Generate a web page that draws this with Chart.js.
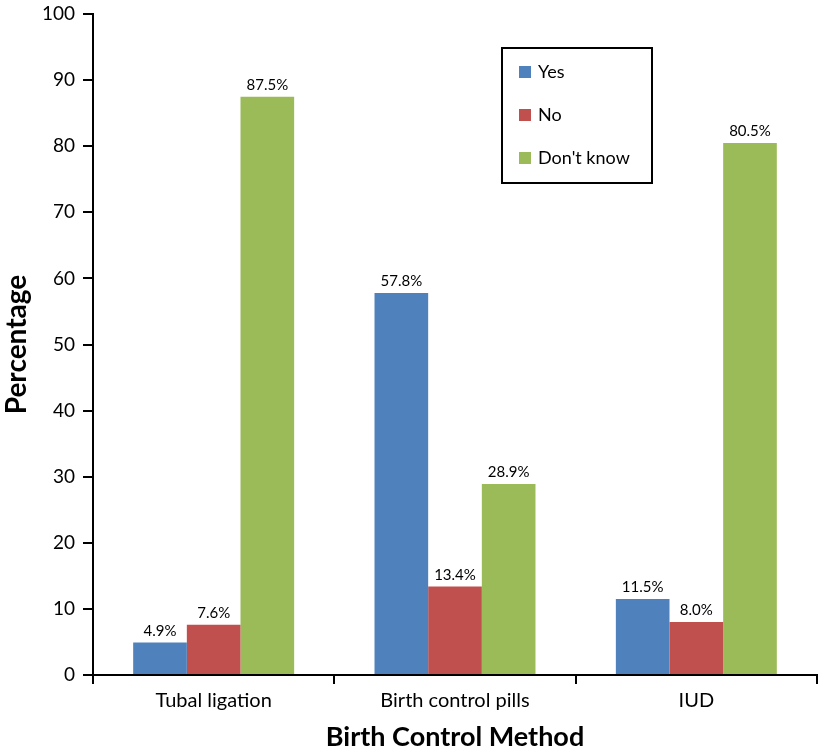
<!DOCTYPE html>
<html>
<head>
<meta charset="utf-8">
<script src="https://cdn.jsdelivr.net/npm/chart.js@4"></script>
<style>
  html, body { margin: 0; padding: 0; background: #fff; }
  #wrap { width: 819px; height: 753px; position: relative; }
</style>
</head>
<body>
<div id="wrap"><canvas id="chart"></canvas></div>
<script>
const categories = ["Tubal ligation", "Birth control pills", "IUD"];
const seriesNames = ["Yes", "No", "Don't know"];
const yesValues = [4.9, 57.8, 11.5];
const noValues = [7.6, 13.4, 8.0];
const dontKnowValues = [87.5, 28.9, 80.5];
const colors = ["#4F81BD", "#C0504D", "#9BBB59"];

const FONT = "Lato, 'Open Sans', sans-serif";

// etiketten boven de balken
const barLabels = {
  id: "barLabels",
  afterDatasetsDraw(chart) {
    const ctx = chart.ctx;
    ctx.save();
    ctx.font = "15px " + FONT;
    ctx.fillStyle = "#000";
    ctx.textAlign = "center";
    ctx.textBaseline = "bottom";
    chart.data.datasets.forEach((ds, i) => {
      chart.getDatasetMeta(i).data.forEach((bar, j) => {
        ctx.fillText(ds.data[j].toFixed(1) + "%", bar.x, bar.y - 4);
      });
    });
    ctx.restore();
  }
};

// legenda in een kader
const boxLegend = {
  id: "boxLegend",
  afterDraw(chart) {
    const ctx = chart.ctx;
    const x = 502, y = 48, w = 150, h = 135;
    ctx.save();
    ctx.fillStyle = "#fff";
    ctx.fillRect(x, y, w, h);
    ctx.strokeStyle = "#000";
    ctx.lineWidth = 2;
    ctx.strokeRect(x, y, w, h);
    ctx.font = "18px " + FONT;
    ctx.textBaseline = "middle";
    seriesNames.forEach((name, i) => {
      const cy = y + 24 + i * 43;
      ctx.fillStyle = colors[i];
      ctx.fillRect(x + 17, cy - 6, 12, 12);
      ctx.fillStyle = "#000";
      ctx.fillText(name, x + 36, cy);
    });
    ctx.restore();
  }
};

new Chart(document.getElementById("chart"), {
  type: "bar",
  data: {
    labels: categories,
    datasets: [
      { label: seriesNames[0], data: yesValues, backgroundColor: colors[0] },
      { label: seriesNames[1], data: noValues, backgroundColor: colors[1] },
      { label: seriesNames[2], data: dontKnowValues, backgroundColor: colors[2] }
    ]
  },
  options: {
    responsive: true,
    maintainAspectRatio: false,
    animation: false,
    datasets: { bar: { barPercentage: 1.0, categoryPercentage: 0.667 } },
    layout: { padding: { top: 14, right: 2, left: 0, bottom: 0 } },
    plugins: {
      legend: { display: false },
      tooltip: { enabled: false }
    },
    scales: {
      x: {
        afterFit: (scale) => { scale.height = 78; },
        grid: {
          offset: true,
          drawOnChartArea: false,
          drawTicks: true,
          tickLength: 9,
          color: "#000",
          lineWidth: 2
        },
        border: { display: true, color: "#000", width: 2 },
        ticks: { color: "#000", font: { family: FONT, size: 20 }, padding: 5 },
        title: {
          display: true,
          text: "Birth Control Method",
          color: "#000",
          font: { family: FONT, size: 27, weight: "bold" },
          padding: { top: 2, bottom: 0 }
        }
      },
      y: {
        min: 0,
        max: 100,
        afterFit: (scale) => {
          scale.width = 93;
          scale.paddingTop = 0;
          scale.paddingBottom = 0;
        },
        grid: {
          drawOnChartArea: false,
          drawTicks: true,
          tickLength: 10,
          color: "#000",
          lineWidth: 2
        },
        border: { display: true, color: "#000", width: 2 },
        ticks: { stepSize: 10, color: "#000", font: { family: FONT, size: 19 }, padding: 8 },
        title: {
          display: true,
          text: "Percentage",
          color: "#000",
          font: { family: FONT, size: 28, weight: "bold" },
          padding: { top: 0, bottom: 0 }
        }
      }
    }
  },
  plugins: [barLabels, boxLegend]
});
</script>
</body>
</html>
